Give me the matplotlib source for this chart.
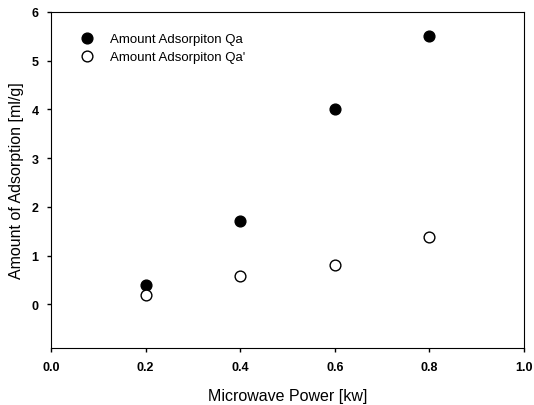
import matplotlib
matplotlib.use('Agg')
import matplotlib.pyplot as plt

plt.rcParams['font.family'] = ['Liberation Sans', 'DejaVu Sans']

power = [0.2, 0.4, 0.6, 0.8]
qa = [0.4, 1.7, 4.0, 5.5]
qa_prime = [0.2, 0.58, 0.8, 1.38]

fig = plt.figure(figsize=(5.34, 4.06), dpi=100)
ax = fig.add_axes([0.0955, 0.140, 0.886, 0.828])

ax.scatter(power, qa, s=60, color='black', edgecolors='black', linewidths=1, label='Amount Adsorpiton Qa', zorder=3)
ax.scatter(power, qa_prime, s=60, color='white', edgecolors='black', linewidths=1, label="Amount Adsorpiton Qa'", zorder=3)

ax.set_xlim(0, 1.0)
ax.set_ylim(-0.9, 6)
ax.set_xticks([0.0, 0.2, 0.4, 0.6, 0.8, 1.0])
ax.set_yticks([0, 1, 2, 3, 4, 5, 6])
ax.set_xticklabels(['0.0', '0.2', '0.4', '0.6', '0.8', '1.0'])
ax.tick_params(direction='out', length=3, width=1, labelsize=9, pad=6)
for lbl in ax.get_xticklabels() + ax.get_yticklabels():
    lbl.set_fontweight('bold')

ax.set_xlabel('Microwave Power [kw]', fontsize=11.5, labelpad=11)
ax.set_ylabel('Amount of Adsorption [ml/g]', fontsize=11.5, labelpad=5)

ax.legend(loc='upper left', frameon=False, fontsize=9.5, bbox_to_anchor=(0.038, 0.955),
          handletextpad=0.7, borderaxespad=0, labelspacing=0.45)

plt.savefig('out.png', dpi=100)
